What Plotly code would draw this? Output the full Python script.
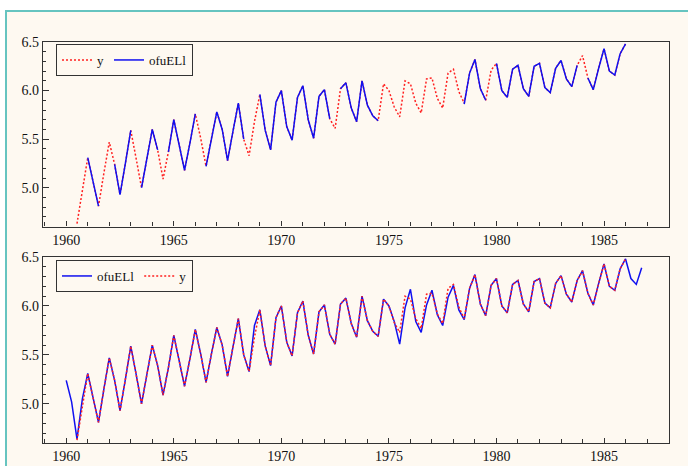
import plotly.graph_objects as go

# ---------------- data (quarterly) ----------------
y_start = 1960.5
y_vals = [
    4.63, 4.97,
    5.31, 5.06, 4.81, 5.15,
    5.47, 5.24, 4.93, 5.25,
    5.59, 5.30, 5.00, 5.30,
    5.60, 5.39, 5.09, 5.37,
    5.70, 5.44, 5.18, 5.46,
    5.76, 5.51, 5.22, 5.51,
    5.78, 5.60, 5.28, 5.58,
    5.87, 5.50, 5.33, 5.68,
    5.96, 5.59, 5.39, 5.88,
    6.00, 5.63, 5.49, 5.93,
    6.05, 5.70, 5.51, 5.94,
    6.01, 5.71, 5.61, 6.02,
    6.08, 5.82, 5.68, 6.10,
    5.85, 5.74, 5.69, 6.07,
    6.00, 5.83, 5.73, 6.10,
    6.07, 5.87, 5.77, 6.12,
    6.13, 5.92, 5.82, 6.18,
    6.22, 5.99, 5.87, 6.18,
    6.32, 6.02, 5.90, 6.21,
    6.28, 6.00, 5.93, 6.22,
    6.26, 6.02, 5.94, 6.25,
    6.28, 6.03, 5.98, 6.23,
    6.31, 6.12, 6.04, 6.26,
    6.36, 6.13, 6.01, 6.23,
    6.43, 6.20, 6.16, 6.38,
    6.48,
]

ofu_start = 1960.0
ofu_vals = [
    5.24, 5.02, 4.64, 5.05,
    5.31, 5.06, 4.81, 5.15,
    5.47, 5.24, 4.93, 5.25,
    5.59, 5.30, 5.00, 5.30,
    5.60, 5.39, 5.09, 5.37,
    5.70, 5.44, 5.18, 5.46,
    5.76, 5.51, 5.22, 5.51,
    5.78, 5.60, 5.28, 5.58,
    5.87, 5.50, 5.33, 5.80,
    5.96, 5.59, 5.39, 5.88,
    6.00, 5.63, 5.49, 5.93,
    6.05, 5.70, 5.51, 5.94,
    6.01, 5.71, 5.61, 6.02,
    6.08, 5.82, 5.68, 6.10,
    5.85, 5.74, 5.69, 6.07,
    6.00, 5.84, 5.61, 5.98,
    6.17, 5.84, 5.73, 6.01,
    6.16, 5.91, 5.80, 6.09,
    6.21, 5.96, 5.86, 6.18,
    6.32, 6.02, 5.90, 6.21,
    6.28, 6.00, 5.93, 6.22,
    6.26, 6.02, 5.94, 6.25,
    6.28, 6.03, 5.98, 6.23,
    6.31, 6.12, 6.04, 6.26,
    6.36, 6.13, 6.01, 6.23,
    6.43, 6.20, 6.16, 6.38,
    6.48, 6.28, 6.22, 6.39,
]

# quarters in the upper panel where ofuELl is not available
top_missing = [1960.5, 1960.75, 1961.75, 1962.0, 1963.25, 1964.5, 1966.25,
               1968.5, 1968.75, 1972.5,
               1974.75, 1975.0, 1975.25, 1975.5, 1975.75, 1976.0, 1976.25,
               1976.5, 1976.75, 1977.0, 1977.25, 1977.5, 1977.75, 1978.0,
               1978.25, 1979.75, 1984.0]

x_ticks_major = [1960, 1965, 1970, 1975, 1980, 1985]

# ---------------- derived ----------------
y_x = [y_start + 0.25 * i for i in range(len(y_vals))]
ofu_x = [ofu_start + 0.25 * i for i in range(len(ofu_vals))]
ofu_map = dict(zip(ofu_x, ofu_vals))
top_ofu = [None if (t in top_missing) else ofu_map[t] for t in y_x]

FONT = "'Liberation Serif', 'Times New Roman', Times, serif"
CREAM = "#FEF9F1"
TEAL = "#66C4C0"
RED = "#FF2020"
BLUE = "#1010F0"
FRAME = "#333333"

fig = go.Figure()
# top panel
fig.add_trace(go.Scatter(x=y_x, y=y_vals, mode="lines", name="y",
                         line=dict(color=RED, width=1.5, dash="2px,2px"),
                         xaxis="x", yaxis="y", legend="legend"))
fig.add_trace(go.Scatter(x=y_x, y=top_ofu, mode="lines", name="ofuELl",
                         line=dict(color=BLUE, width=1.5),
                         connectgaps=False,
                         xaxis="x", yaxis="y", legend="legend"))
# bottom panel
fig.add_trace(go.Scatter(x=ofu_x, y=ofu_vals, mode="lines", name="ofuELl",
                         line=dict(color=BLUE, width=1.5),
                         xaxis="x2", yaxis="y2", legend="legend2"))
fig.add_trace(go.Scatter(x=y_x, y=y_vals, mode="lines", name="y",
                         line=dict(color=RED, width=1.5, dash="2px,2px"),
                         xaxis="x2", yaxis="y2", legend="legend2"))

L, R, T, B = 43, 19, 42, 23
W, H = 688, 466
ph = H - T - B
pw = W - L - R

def py(pix):
    return (H - B - pix) / ph

def px(pix):
    return (pix - L) / pw

xrange_ = [1958.92, 1988.02]
yrange_ = [4.6, 6.5]

def xa(anchor):
    return dict(range=xrange_, anchor=anchor, showgrid=False, zeroline=False,
                showline=True, linecolor=FRAME, linewidth=1.3, mirror=True,
                tickmode="array", tickvals=x_ticks_major,
                ticktext=[str(v) for v in x_ticks_major],
                ticks="inside", ticklen=5, tickcolor=FRAME, tickwidth=1,
                minor=dict(tickmode="linear", tick0=1960, dtick=1,
                           ticks="inside", ticklen=4, tickcolor=FRAME, tickwidth=1),
                tickfont=dict(family=FONT, size=14, color="#111"),
                automargin=False)

def ya(anchor, dom):
    return dict(range=yrange_, domain=dom, anchor=anchor, showgrid=False,
                zeroline=False, showline=True, linecolor=FRAME, linewidth=1.3,
                mirror=True, tickmode="linear", tick0=5.0, dtick=0.5,
                tickformat=".1f", ticks="inside", ticklen=6, tickcolor=FRAME,
                tickwidth=1,
                minor=dict(tickmode="linear", tick0=5.0, dtick=0.1,
                           ticks="inside", ticklen=3, tickcolor=FRAME, tickwidth=1),
                tickfont=dict(family=FONT, size=14, color="#111"),
                automargin=False)

top_dom = [py(226.6), 1.0]
bot_dom = [0.0, py(257)]

leg_common = dict(orientation="h", xanchor="left", yanchor="top",
                  bgcolor=CREAM, bordercolor=FRAME, borderwidth=1,
                  font=dict(family=FONT, size=13, color="#111"),
                  itemwidth=30, tracegroupgap=0, traceorder="normal")

fig.update_layout(
    width=W, height=H,
    margin=dict(l=L, r=R, t=T, b=B, pad=0),
    paper_bgcolor="white",
    plot_bgcolor="rgba(0,0,0,0)",
    template="none",
    showlegend=True,
    xaxis=xa("y"),
    yaxis=ya("x", top_dom),
    xaxis2=xa("y2"),
    yaxis2=ya("x2", bot_dom),
    legend=dict(x=px(56), y=py(44), **leg_common),
    legend2=dict(x=px(56), y=py(260), **leg_common),
    shapes=[dict(type="rect", xref="paper", yref="paper", layer="below",
                 x0=px(6), x1=px(760), y0=py(520), y1=py(11),
                 fillcolor=CREAM, line=dict(color=TEAL, width=2))],
)

fig.write_html("out.html", config={"displayModeBar": False},
               post_script="document.body.style.margin='0';")
